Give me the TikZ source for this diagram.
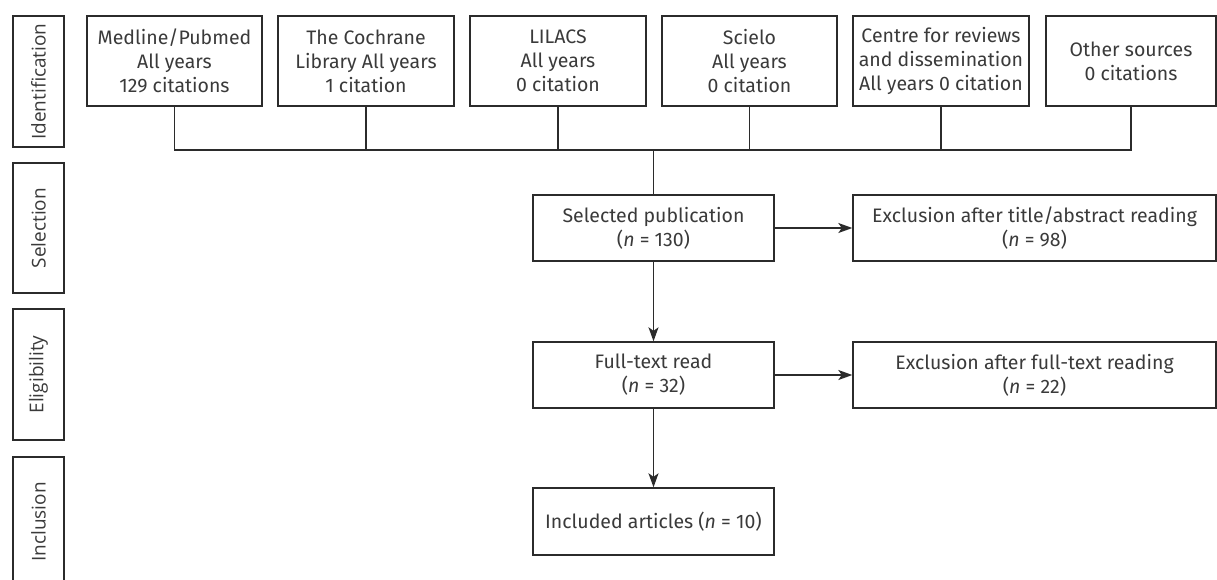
\documentclass[tikz,border=0pt]{standalone}
\usepackage{fontspec}
\setmainfont{Fira Sans}
\newfontfamily\stagefont{Open Sans}
\usetikzlibrary{arrows.meta}
\definecolor{ink}{HTML}{2B2B2B}
\definecolor{txt}{HTML}{3A3A3A}
\begin{document}
\begin{tikzpicture}[x=1pt,y=-1pt,
  box/.style={draw=ink, line width=1.4pt, fill=white, inner sep=0pt, align=center,
    text=txt, font=\fontsize{19.5}{24}\selectfont},
  stagebox/.style={draw=ink, line width=1.4pt, inner sep=0pt, rotate=90,
    minimum height=51pt, text=txt, font=\stagefont\fontsize{19}{22}\selectfont},
  link/.style={draw=ink, line width=1.4pt},
  arr/.style={link, -{Stealth[length=14pt,width=10pt,inset=3.5pt]}}]
\clip (0,0) rectangle (1217,579);
\fill[white] (0,0) rectangle (1217,579);
% stage boxes
\node[stagebox, minimum width=131pt] (id) at (38.5,81.5) {Identification};
\node[stagebox, minimum width=130pt] (se) at (38.5,228) {Selection};
\node[stagebox, minimum width=131pt] (el) at (38.5,374.5) {Eligibility};
\node[stagebox, minimum width=130pt] (in) at (38.5,522) {Inclusion};
% sources
\node[box, minimum width=175pt, minimum height=90pt] (s1) at (174.5,61) {Medline/Pubmed\\All years\\129 citations};
\node[box, minimum width=176pt, minimum height=90pt] (s2) at (366,61) {The Cochrane\\Library All years\\1 citation};
\node[box, minimum width=176pt, minimum height=90pt] (s3) at (558,61) {LILACS\\All years\\0 citation};
\node[box, minimum width=175pt, minimum height=90pt] (s4) at (749.5,61) {Scielo\\All years\\0 citation};
\node[box, minimum width=176pt, minimum height=90pt] (s5) at (941,61) {Centre for reviews\\and dissemination\\All years 0 citation};
\node[box, minimum width=170pt, minimum height=90pt] (s6) at (1131,61) {Other sources\\0 citations};
% flow
\node[box, minimum width=241pt, minimum height=66pt] (sel) at (653.5,228) {Selected publication\\(\textit{n} = 130)};
\node[box, minimum width=363pt, minimum height=66pt] (ex1) at (1034.5,228) {Exclusion after title/abstract reading\\(\textit{n} = 98)};
\node[box, minimum width=241pt, minimum height=66pt] (full) at (653.5,375) {Full-text read\\(\textit{n} = 32)};
\node[box, minimum width=363pt, minimum height=66pt] (ex2) at (1034.5,375) {Exclusion after full-text reading\\(\textit{n} = 22)};
\node[box, minimum width=241pt, minimum height=67pt] (inc) at (653.5,521.5) {Included articles (\textit{n} = 10)};
% connectors
\coordinate (j) at (653.5,150);
\draw[link] (s1.south) |- (j) -| (s6.south);
\draw[link] (s2.south) -- (s2.south |- j);
\draw[link] (s3.south) -- (s3.south |- j);
\draw[link] (s4.south) -- (s4.south |- j);
\draw[link] (s5.south) -- (s5.south |- j);
\draw[link] (j) -- (sel.north);
\draw[arr] (sel) -- (ex1);
\draw[arr] (sel) -- (full);
\draw[arr] (full) -- (ex2);
\draw[arr] (full) -- (inc);
\end{tikzpicture}
\end{document}
